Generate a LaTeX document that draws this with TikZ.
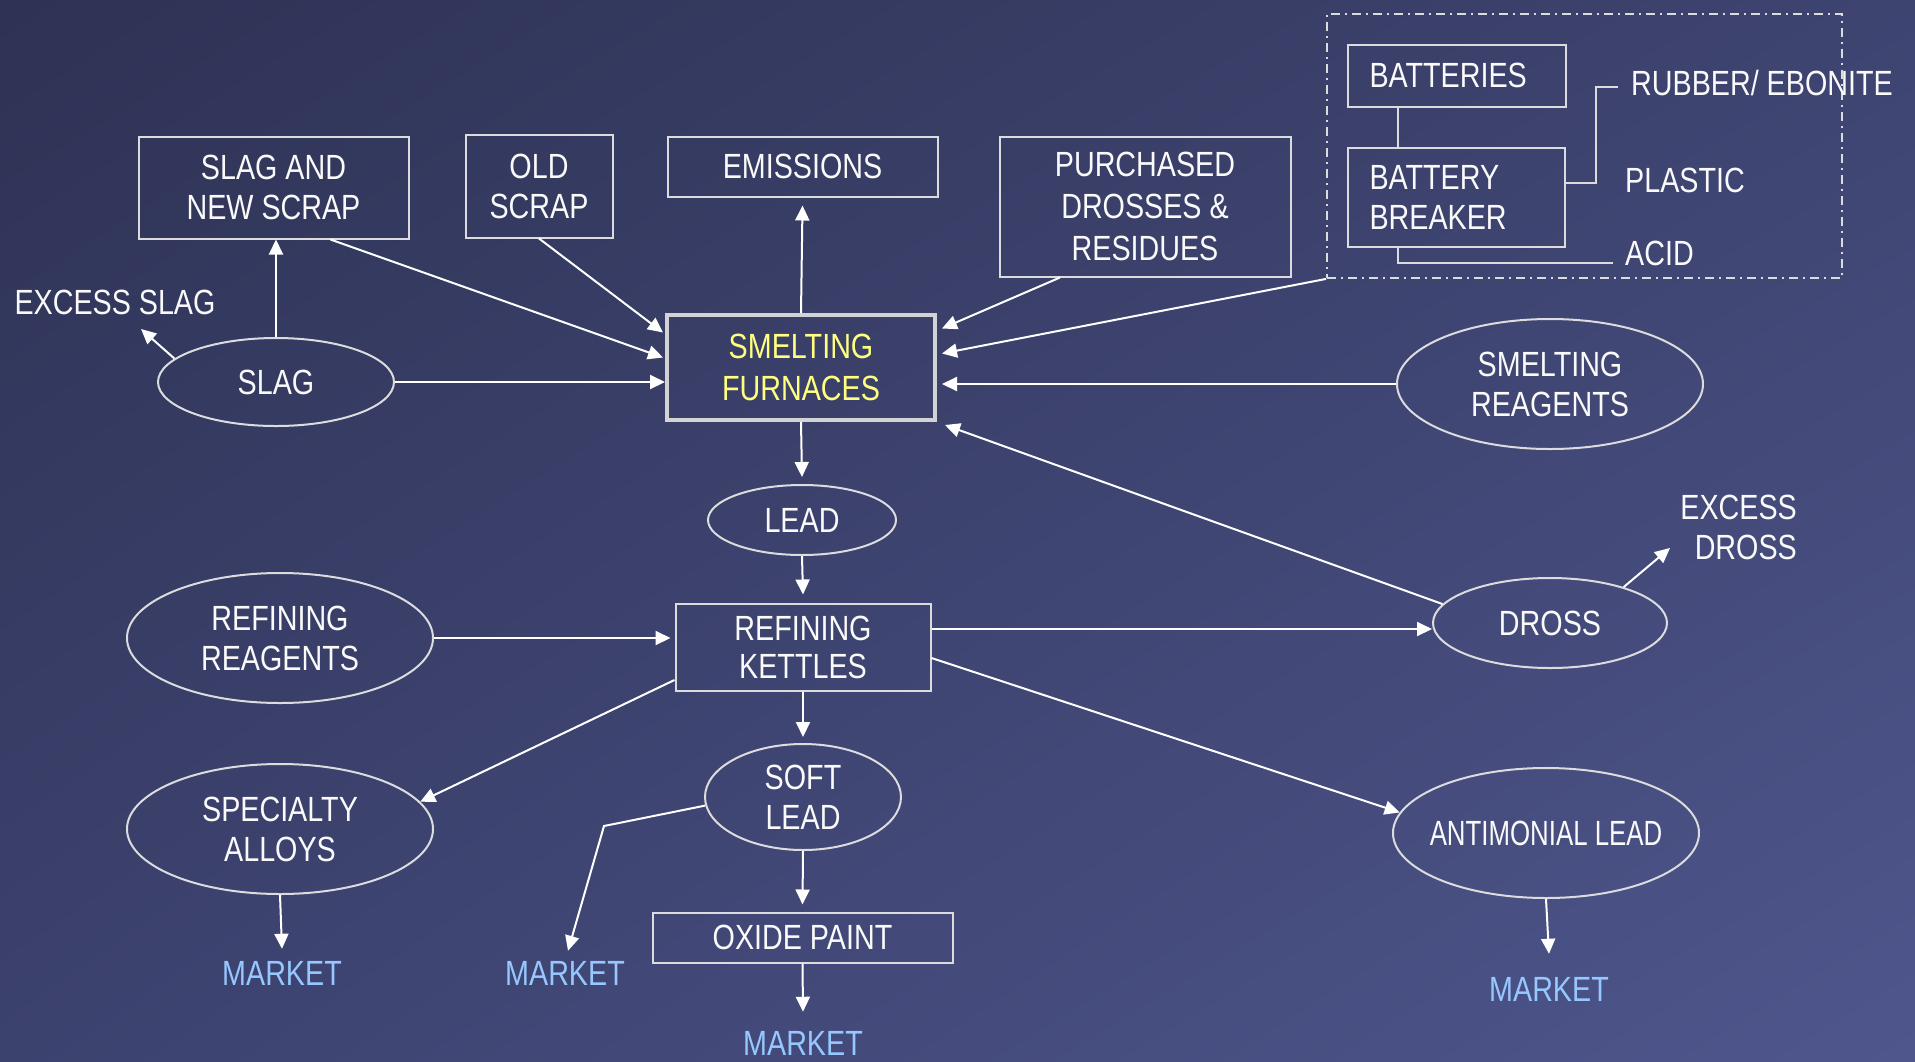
\documentclass[tikz,border=0pt]{standalone}
\usepackage{fontspec}
\setmainfont{Liberation Sans}[FakeStretch=0.82]
\usetikzlibrary{arrows.meta,calc,shapes.geometric,shadings}
\definecolor{bgTL}{RGB}{46,50,84}
\definecolor{bgTR}{RGB}{62,68,112}
\definecolor{bgBL}{RGB}{60,66,110}
\definecolor{bgBR}{RGB}{78,86,140}
\definecolor{boxc}{RGB}{220,220,222}
\definecolor{txt}{RGB}{250,250,250}
\definecolor{mktc}{RGB}{150,200,255}
\definecolor{yel}{RGB}{255,255,128}
\begin{document}
\begin{tikzpicture}[x=1pt,y=-1pt,
  font=\fontsize{35}{40}\selectfont,
  box/.style={rectangle,draw=boxc,line width=2pt,text=txt,align=center,inner sep=0pt},
  oval/.style={ellipse,draw=boxc,line width=2pt,text=txt,align=center,inner sep=0pt},
  lbl/.style={text=txt,inner sep=0pt,align=center},
  mkt/.style={text=mktc,inner sep=0pt},
  arr/.style={draw=white,line width=2pt,-{Triangle[length=15pt,width=14pt]}},
  ln/.style={draw=boxc,line width=2pt},
  dbox/.style={rectangle,draw=boxc,line width=1.8pt,dash pattern=on 9pt off 5pt on 2pt off 5pt,inner sep=0pt}
]
\shade[upper left=bgTL,upper right=bgTR,lower left=bgBL,lower right=bgBR] (0,0) rectangle (1915,1061);
\useasboundingbox (0,0) rectangle (1915,1061);

% top row
\node[box,minimum width=270,minimum height=102] (sns) at (273.5,187.5) {SLAG AND\\NEW SCRAP};
\node[box,minimum width=147,minimum height=103] (old) at (539,186) {OLD\\SCRAP};
\node[box,minimum width=270,minimum height=60] (emis) at (802.5,166.5) {EMISSIONS};
\node[box,minimum width=291,minimum height=140,font=\fontsize{35}{42}\selectfont] (purch) at (1145,206.5) {PURCHASED\\DROSSES \&\\RESIDUES};

% battery group
\node[dbox,minimum width=515,minimum height=264] (batgrp) at (1584.5,146) {};
\node[box,minimum width=218,minimum height=62,text width=174,align=left] (bat) at (1456.5,75.5) {BATTERIES};
\node[box,minimum width=217,minimum height=99,text width=173,align=left] (brk) at (1456,197) {BATTERY\\BREAKER};
\node[lbl,anchor=west] (rubber) at (1631,83) {RUBBER/ EBONITE};
\node[lbl,anchor=west] (plastic) at (1625,180) {PLASTIC};
\node[lbl,anchor=west] (acid) at (1625,253) {ACID};

% furnaces
\node[box,line width=4pt,draw=boxc!90!gray,minimum width=268,minimum height=105,text=yel,font=\fontsize{35}{42}\selectfont] (furn) at (801,367.5) {SMELTING\\FURNACES};

\node[oval,minimum width=236,minimum height=88] (slag) at (276,382) {SLAG};
\node[lbl] (exslag) at (115,302) {EXCESS SLAG};
\node[oval,minimum width=306,minimum height=130] (sreag) at (1550,384) {SMELTING\\REAGENTS};

\node[oval,minimum width=188,minimum height=70] (lead) at (802,520) {LEAD};
\node[box,minimum width=255,minimum height=87,font=\fontsize{35}{38}\selectfont] (kett) at (803,647) {REFINING\\KETTLES};
\node[oval,minimum width=306,minimum height=130] (rreag) at (280,638) {REFINING\\REAGENTS};
\node[oval,minimum width=234,minimum height=90] (dross) at (1550,623) {DROSS};
\node[lbl,align=right,anchor=east] (exdross) at (1797,527) {EXCESS\\DROSS};

\node[oval,minimum width=306,minimum height=130] (spec) at (280,829) {SPECIALTY\\ALLOYS};
\node[oval,minimum width=196,minimum height=106] (soft) at (803,797) {SOFT\\LEAD};
\node[box,minimum width=300,minimum height=50] (oxide) at (802.5,937.5) {OXIDE PAINT};
\node[oval,minimum width=306,minimum height=130] (antim) at (1546,833) {\makebox[0pt]{\scalebox{0.9}[1]{ANTIMONIAL LEAD}}};

\node[mkt] (m1) at (282,973) {MARKET};
\node[mkt] (m2) at (565,973) {MARKET};
\node[mkt] (m3) at (803,1043) {MARKET};
\node[mkt] (m4) at (1549,989) {MARKET};

% free ends
\coordinate (exslagtip) at (141,329);
\coordinate (exdrosstip) at (1670,548);
\coordinate (softbend) at (604,826);
\coordinate (rubbend) at (1596,87);
\coordinate (rubtip) at (1618,87);
\coordinate (acidtip) at (1613,263);

% connectors
\draw[arr] (slag.north) -- (slag.north |- sns.south);
\draw[arr] (slag.167) -- (exslagtip);
\draw[arr] ($(sns.south)+(57,0)$) -- ($(furn.west)+(-2,-10)$);
\draw[arr] (old.south) -- ($(furn.west)+(-2,-35)$);
\draw[arr] (slag.east) -- (slag.east -| furn.west);
\draw[arr] (furn.north) -- ($(emis.south)+(0,8)$);
\draw[arr] ($(purch.south)+(-85,0)$) -- ($(furn.east)+(5,-39)$);
\draw[arr] (batgrp.south west) -- ($(furn.east)+(5,-14)$);
\draw[arr] (sreag.west) -- ($(furn.east |- sreag.west)+(5,0)$);
\draw[arr] (dross.170) -- ($(furn.south east)+(8,3)$);
\draw[arr] (furn.south) -- ($(lead.north)+(0,-7)$);
\draw[arr] (lead.south) -- ($(kett.north)+(0,-8)$);
\draw[arr] (rreag.east) -- ($(kett.west |- rreag.east)+(-4,0)$);
\coordinate (kd) at ($(kett.east)+(0,-18)$);
\draw[arr] (kd) -- (kd -| dross.west);
\draw[arr] ($(kett.west)+(0,33)$) -- (spec.11);
\draw[arr] (kett.south) -- ($(soft.north)+(0,-6)$);
\draw[arr] (soft.185) -- (softbend) -- ($(m2.north)+(3,-10)$);
\draw[arr] (soft.south) -- ($(oxide.north)+(0,-7)$);
\draw[arr] (oxide.south) -- ($(m3.north)+(0,-19)$);
\draw[arr] ($(kett.east)+(0,11)$) -- (antim.172);
\draw[arr] (antim.south) -- ($(m4.north)+(0,-23)$);
\draw[arr] (spec.south) -- ($(m1.north)+(0,-12)$);
\draw[arr] (dross.26) -- (exdrosstip);

\draw[ln] ($(bat.south west)+(51,0)$) -- ($(brk.north west)+(51,0)$);
\draw[ln] ($(brk.east)+(0,-14)$) -| (rubbend) -- (rubtip);
\draw[ln] ($(brk.south west)+(51,0)$) |- (acidtip);
\end{tikzpicture}
\end{document}
